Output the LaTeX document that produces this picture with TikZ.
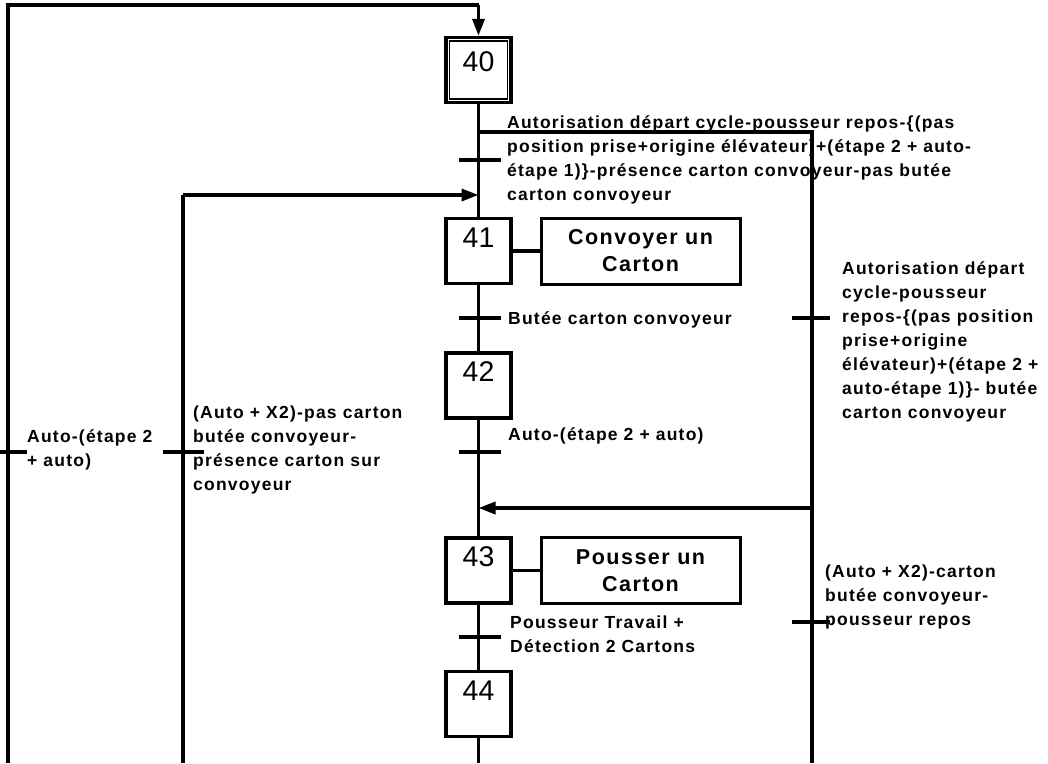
\documentclass[tikz,border=0pt]{standalone}
\usepackage{fontspec}
\setmainfont{Liberation Sans}
\newfontfamily\condfamily[LetterSpace=7]{Liberation Sans}
\newfontfamily\actfamily[LetterSpace=7]{Liberation Sans}
\usetikzlibrary{arrows.meta}
% first-line strut: fixes the distance from the top of a label to its first baseline
\newcommand\fl{\rule{0pt}{14pt}}

\tikzset{
  wire/.style={line width=3.4pt},
  tick/.style={line width=4.4pt},
  arr/.style={wire,-{Triangle[length=17pt,width=12pt]}},
  stepbox/.style={draw, line width=3.3pt, minimum width=65pt, inner sep=0pt,
    text height=28.5pt, text depth=36.5pt, font=\fontsize{28.5}{28.5}\selectfont},
  initbox/.style={stepbox, text height=33.5pt, text depth=31.5pt},
  actbox/.style={draw, line width=3pt, minimum width=199pt, minimum height=66pt,
    inner sep=0pt, align=center, font=\actfamily\bfseries\fontsize{21.5}{27}\selectfont},
  cond/.style={anchor=north west, inner sep=0pt, align=left,
    font=\condfamily\bfseries\fontsize{17.5}{24}\selectfont},
}

\begin{document}
\begin{tikzpicture}[x=1pt,y=-1pt]
\useasboundingbox (0,0) rectangle (1048,763);

% steps
\node[initbox] (s40) at (478.5,70) {40};
\draw[line width=1.6pt] ([shift={(5,5)}]s40.north west) rectangle ([shift={(-5,-5)}]s40.south east);
\node[stepbox] (s41) at (478.5,251) {41};
\node[stepbox] (s42) at (478.5,385.5) {42};
\node[stepbox] (s43) at (478.5,570.5) {43};
\node[stepbox] (s44) at (478.5,704) {44};

% actions
\node[actbox] (a41) at (640.5,251) {Convoyer un\\Carton};
\node[actbox] (a43) at (640.5,570.5) {Pousser un\\Carton};
\draw[wire] (s41.east) -- (a41.west);
\draw[wire] (s43.east) -- (a43.west);

% points on the wires
\coordinate (c0) at (8,5);
\coordinate (c0r) at (478.5,5);
\coordinate (cbot) at (8,763);
\coordinate (b40) at (478.5,132);
\coordinate (b40r) at (812,132);
\coordinate (rbot) at (812,763);
\coordinate (m41) at (183,195);
\coordinate (j41) at (478.5,195);
\coordinate (lbot) at (183,763);
\coordinate (m43) at (812,508);
\coordinate (j43) at (478.5,508);
\coordinate (mbot) at (478.5,763);

% main sequence
\draw[wire] (s40.south) -- (s41.north);
\draw[wire] (s41.south) -- (s42.north);
\draw[wire] (s42.south) -- (s43.north);
\draw[wire] (s43.south) -- (s44.north);
\draw[wire] (s44.south) -- (mbot);

% return loops
\draw[wire] (cbot) -- (c0) -- (c0r);
\draw[arr] (c0r) -- (s40.north);
\draw[wire] (lbot) -- (m41);
\draw[arr] (m41) -- (j41);
\draw[wire] (b40) -- (b40r) -- (rbot);
\draw[arr] (m43) -- (j43);

% transitions
\coordinate (t40) at (478.5,160);
\coordinate (t41) at (478.5,318);
\coordinate (t42) at (478.5,452);
\coordinate (t43) at (478.5,637);
\coordinate (tr1) at (812,318);
\coordinate (tr2) at (812,622);
\coordinate (tl1) at (8,452);
\coordinate (tl2) at (183,452);
\foreach \t in {t40,t41,t42,t43}
  \draw[tick] ([xshift=-20pt]\t) -- ([xshift=22pt]\t);
\foreach \t in {tr1,tr2}
  \draw[tick] ([xshift=-20pt]\t) -- ([xshift=18pt]\t);
\draw[tick] ([xshift=-8pt]tl1) -- ([xshift=19pt]tl1);
\draw[tick] ([xshift=-20pt]tl2) -- ([xshift=21pt]tl2);

% receptivities
\node[cond] (r40) at (507,114) {\fl Autorisation départ cycle-pousseur repos-\{(pas\\position prise+origine élévateur)+(étape 2 + auto-\\étape 1)\}-présence carton convoyeur-pas butée\\carton convoyeur};
\node[cond] (r41) at (508,310) {\fl Butée carton convoyeur};
\node[cond] (r42) at (508,426) {\fl Auto-(étape 2 + auto)};
\node[cond] (r43) at (510,614) {\fl Pousseur Travail +\\Détection 2 Cartons};
\node[cond] (rr1) at (842,260) {\fl Autorisation départ\\cycle-pousseur\\repos-\{(pas position\\prise+origine\\élévateur)+(étape 2 +\\auto-étape 1)\}- butée\\carton convoyeur};
\node[cond] (rr2) at (825,563) {\fl (Auto + X2)-carton\\butée convoyeur-\\pousseur repos};
\node[cond] (rl1) at (27,428) {\fl Auto-(étape 2\\+ auto)};
\node[cond] (rl2) at (193,404) {\fl (Auto + X2)-pas carton\\butée convoyeur-\\présence carton sur\\convoyeur};
\end{tikzpicture}
\end{document}
